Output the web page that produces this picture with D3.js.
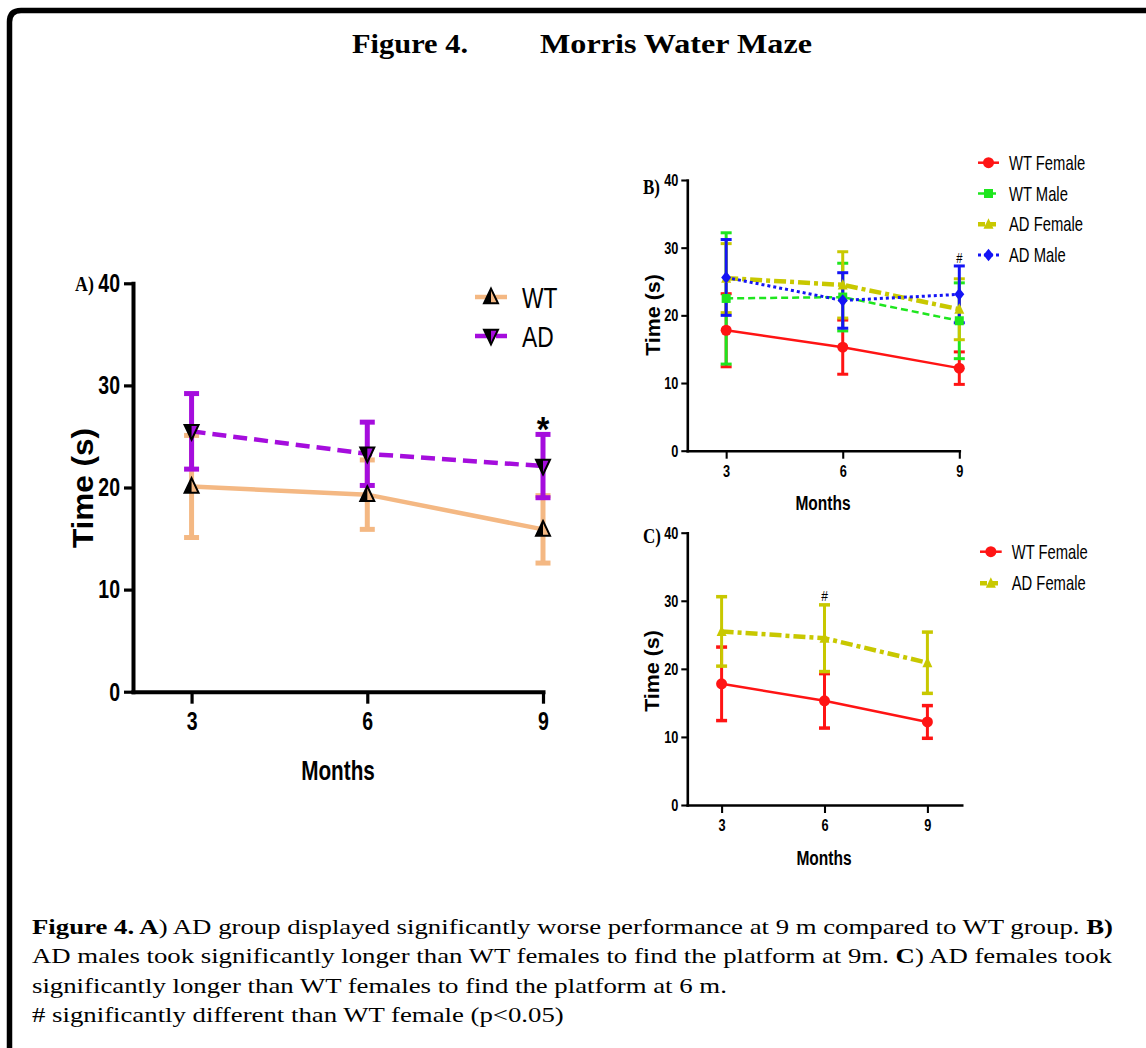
<!DOCTYPE html>
<html>
<head>
<meta charset="utf-8">
<script src="https://cdn.jsdelivr.net/npm/d3@7"></script>
<style>
  body { margin: 0; background: #fff; }
  svg { display: block; }
</style>
</head>
<body>
<svg id="fig" width="1146" height="1048"></svg>
<script>
// ---- data (mean time in s, error = half bar length) ----
const months = [3, 6, 9];
const xTicks = [3, 6, 9];
const yTicks = [0, 10, 20, 30, 40];

// panel A: genotype
const wtMean = [20.1, 19.3, 15.9];
const wtErr = [5.0, 3.4, 3.3];
const adMean = [25.5, 23.3, 22.1];
const adErr = [3.7, 3.1, 3.1];

// panels B / C: genotype x sex
const wtFemaleMean = [17.8, 15.3, 12.2];
const wtFemaleErr = [5.4, 4.0, 2.4];
const wtMaleMean = [22.5, 22.7, 19.2];
const wtMaleErr = [9.7, 5.0, 5.6];
const adFemaleMean = [25.5, 24.5, 20.9];
const adFemaleErr = [5.1, 4.9, 4.5];
const adMaleMean = [25.6, 22.2, 23.1];
const adMaleErr = [5.6, 4.1, 4.2];

const captionLines = [
  [["Figure 4. A", true], [") AD group displayed significantly worse performance at 9 m compared to WT group. ", false], ["B)", true]],
  [["AD males took significantly longer than WT females to find the platform at 9m. ", false], ["C", true], [") AD females took", false]],
  [["significantly longer than WT females to find the platform at 6 m.", false]],
  [["# significantly different than WT female (p<0.05)", false]]
];

const svg = d3.select("#fig");
const SANS = "'Liberation Sans', Arial, sans-serif";
const SERIF = "'Liberation Serif', 'Times New Roman', Times, 'Nimbus Roman', 'DejaVu Serif Condensed', serif";

// text squeezed horizontally, like the condensed font in the original
function label(g, x, y, str, size, o = {}) {
  return g.append("text")
    .attr("transform", `translate(${x},${y}) rotate(${o.rot || 0}) scale(${o.sx || 0.75},1)`)
    .attr("text-anchor", o.anchor || "start")
    .attr("dy", o.dy == null ? "0.35em" : o.dy)
    .attr("font-family", o.family || SANS)
    .attr("font-weight", o.weight || "normal")
    .attr("font-size", size)
    .attr("fill", "#000")
    .text(str);
}

function markerPath(type, s) {
  if (type == "up") return `M0,${-s * 1.2}L${s},${s * 0.9}L${-s},${s * 0.9}Z`;
  if (type == "down") return `M0,${s * 1.2}L${s},${-s * 0.9}L${-s},${-s * 0.9}Z`;
  if (type == "square") return `M${-s},${-s}h${2 * s}v${2 * s}h${-2 * s}Z`;
  if (type == "diamond") return `M0,${-s * 1.25}L${s},0L0,${s * 1.25}L${-s},0Z`;
  return d3.symbol(d3.symbolCircle, Math.PI * s * s)();
}
// left half of the triangle, painted black (panel A markers)
function halfPath(type, s) {
  if (type == "up") return `M0,${-s * 1.2}L0,${s * 0.9}L${-s},${s * 0.9}Z`;
  return `M0,${s * 1.2}L0,${-s * 0.9}L${-s},${-s * 0.9}Z`;
}

function drawMarker(g, type, s, color, outlined) {
  g.append("path").attr("d", markerPath(type, s))
    .attr("fill", color)
    .attr("stroke", outlined ? "#000" : "none")
    .attr("stroke-width", 2)
    .attr("stroke-linejoin", "miter");
  if (outlined)
    g.append("path").attr("d", halfPath(type, s)).attr("fill", "#000");
}

function panel(cfg) {
  const g = svg.append("g");
  const x = d3.scaleLinear().domain(cfg.xDomain).range([cfg.left, cfg.right]);
  const y = d3.scaleLinear().domain([0, 40]).range([cfg.bottom, cfg.top]);

  // error bars
  cfg.series.forEach(s => {
    const eg = g.append("g").attr("stroke", s.color).attr("stroke-width", cfg.barW);
    months.forEach((m, i) => {
      const lo = y(s.mean[i] - s.err[i]), hi = y(s.mean[i] + s.err[i]);
      eg.append("line").attr("x1", x(m)).attr("x2", x(m)).attr("y1", lo).attr("y2", hi);
      [lo, hi].forEach(v => eg.append("line")
        .attr("x1", x(m) - cfg.capW / 2).attr("x2", x(m) + cfg.capW / 2)
        .attr("y1", v).attr("y2", v).attr("stroke-width", cfg.capT));
    });
  });

  // lines
  const line = d3.line().x((d, i) => x(months[i])).y(d => y(d));
  cfg.series.forEach(s => {
    g.append("path").datum(s.mean)
      .attr("d", line)
      .attr("fill", "none")
      .attr("stroke", s.color)
      .attr("stroke-width", s.lw)
      .attr("stroke-dasharray", s.dash);
  });

  // markers
  cfg.series.forEach(s => {
    months.forEach((m, i) => {
      const mg = g.append("g").attr("transform", `translate(${x(m)},${y(s.mean[i])})`);
      drawMarker(mg, s.marker, s.ms, s.color, cfg.outlined);
    });
  });

  // axes
  const ya = g.append("g").attr("transform", `translate(${cfg.left},0)`)
    .call(d3.axisLeft(y).tickValues(yTicks).tickFormat(d3.format("d"))
      .tickSize(cfg.tick).tickSizeOuter(0).tickPadding(cfg.pad));
  const xa = g.append("g").attr("transform", `translate(0,${cfg.bottom})`)
    .call(d3.axisBottom(x).tickValues(xTicks).tickFormat(d3.format("d"))
      .tickSize(cfg.tickX).tickSizeOuter(0).tickPadding(cfg.padX));
  [ya, xa].forEach(a => {
    a.select(".domain").attr("stroke", "#000").attr("stroke-width", cfg.axisW).attr("stroke-linecap", "square");
    a.selectAll(".tick line").attr("stroke", "#000").attr("stroke-width", cfg.axisW * 0.8);
    a.selectAll("text")
      .attr("font-family", SANS).attr("font-weight", "bold")
      .attr("font-size", cfg.tickFont).attr("fill", "#000");
  });
  ya.selectAll("text")
    .attr("x", -(cfg.tick + cfg.pad) / 0.75)
    .attr("transform", "scale(0.75,1)");
  xa.selectAll("text").attr("transform", "scale(0.75,1)");

  // axis titles
  label(g, cfg.yTitle[0], cfg.yTitle[1], "Time (s)", cfg.yTitleFont,
    { rot: -90, sx: cfg.yTitleSx, anchor: "middle", weight: "bold" });
  label(g, cfg.xTitle[0], cfg.xTitle[1], "Months", cfg.xTitleFont,
    { sx: 0.74, anchor: "middle", weight: "bold" });
  label(g, cfg.tag[0], cfg.tag[1], cfg.tagText, cfg.tagFont,
    { sx: 0.85, family: SERIF, weight: "bold" });

  // legend
  cfg.series.forEach((s, i) => {
    const ly = cfg.legend.y + i * cfg.legend.step;
    g.append("line")
      .attr("x1", cfg.legend.x0).attr("x2", cfg.legend.x1)
      .attr("y1", ly).attr("y2", ly)
      .attr("stroke", s.color).attr("stroke-width", s.lw)
      .attr("stroke-dasharray", s.legendDash || s.dash);
    const mg = g.append("g").attr("transform", `translate(${(cfg.legend.x0 + cfg.legend.x1) / 2},${ly})`);
    drawMarker(mg, s.marker, s.ms, s.color, cfg.outlined);
    label(g, cfg.legend.tx, ly, s.name, cfg.legend.font, { sx: cfg.legend.sx });
  });

  return { g, x, y };
}

// ---- frame and title ----
svg.append("path")
  .attr("d", "M9.5,1048V22Q9.5,10.5,21,10.5H1146")
  .attr("fill", "none").attr("stroke", "#000").attr("stroke-width", 5.5);

svg.append("text").attr("x", 352).attr("y", 53)
  .attr("font-family", SERIF).attr("font-weight", "bold").attr("font-size", 28)
  .attr("textLength", 116).attr("lengthAdjust", "spacingAndGlyphs")
  .text("Figure 4.");
svg.append("text").attr("x", 540).attr("y", 53)
  .attr("font-family", SERIF).attr("font-weight", "bold").attr("font-size", 28)
  .attr("textLength", 272).attr("lengthAdjust", "spacingAndGlyphs")
  .text("Morris Water Maze");

// ---- panel A ----
const A = panel({
  xDomain: [2, 9], left: 133, right: 543, top: 283.3, bottom: 691.7,
  barW: 5, capW: 15, capT: 5, outlined: true,
  axisW: 4, tick: 9, pad: 4, tickX: 12, padX: 8, tickFont: 26,
  yTitle: [82, 488], yTitleFont: 30, yTitleSx: 1.05,
  xTitle: [338, 770], xTitleFont: 28,
  tag: [75, 284], tagText: "A)", tagFont: 21,
  legend: { x0: 475, x1: 507, tx: 522, y: 297, step: 39, font: 30, sx: 0.76 },
  series: [
    { name: "WT", mean: wtMean, err: wtErr, color: "#F4B883", lw: 4.5, dash: null, marker: "up", ms: 7 },
    { name: "AD", mean: adMean, err: adErr, color: "#A50DDD", lw: 4.5, dash: "14,7", marker: "down", ms: 7 }
  ]
});
label(A.g, A.x(9), 441, "*", 36, { anchor: "middle", dy: 0, weight: "bold", sx: 0.9 });

// ---- panel B ----
const B = panel({
  xDomain: [2, 9], left: 687.3, right: 959.3, top: 180, bottom: 450.7,
  barW: 3, capW: 11, capT: 3, outlined: false,
  axisW: 2.6, tick: 6, pad: 3, tickX: 8, padX: 6, tickFont: 17,
  yTitle: [653, 315], yTitleFont: 20, yTitleSx: 1.07,
  xTitle: [823, 503], xTitleFont: 21,
  tag: [643, 187], tagText: "B)", tagFont: 20,
  legend: { x0: 978, x1: 999, tx: 1009, y: 162.7, step: 30.8, font: 20, sx: 0.74 },
  series: [
    { name: "WT Female", mean: wtFemaleMean, err: wtFemaleErr, color: "#FF1414", lw: 2.5, dash: null, marker: "circle", ms: 5.5 },
    { name: "WT Male", mean: wtMaleMean, err: wtMaleErr, color: "#1EE61E", lw: 2.5, dash: "7,4", marker: "square", ms: 4.5 },
    { name: "AD Female", mean: adFemaleMean, err: adFemaleErr, color: "#C8C800", lw: 4.5, dash: "12,4,4,4", legendDash: "7,4", marker: "up", ms: 5 },
    { name: "AD Male", mean: adMaleMean, err: adMaleErr, color: "#1414F5", lw: 3, dash: "3,3", marker: "diamond", ms: 5 }
  ]
});
label(B.g, B.x(9), 263, "#", 14, { anchor: "middle", dy: 0, sx: 0.8 });

// ---- panel C ----
const C = panel({
  xDomain: [2, 10], left: 687.3, right: 961.7, top: 532.7, bottom: 805,
  barW: 3, capW: 11, capT: 3.5, outlined: false,
  axisW: 2.6, tick: 6, pad: 3, tickX: 8, padX: 6, tickFont: 17,
  yTitle: [652, 671], yTitleFont: 20, yTitleSx: 1.07,
  xTitle: [824, 858], xTitleFont: 21,
  tag: [643, 536], tagText: "C)", tagFont: 20,
  legend: { x0: 980, x1: 1001.7, tx: 1011.7, y: 551.7, step: 31.6, font: 20, sx: 0.74 },
  series: [
    { name: "WT Female", mean: wtFemaleMean, err: wtFemaleErr, color: "#FF1414", lw: 2.5, dash: null, marker: "circle", ms: 5.5 },
    { name: "AD Female", mean: adFemaleMean, err: adFemaleErr, color: "#C8C800", lw: 4.5, dash: "12,4,4,4", legendDash: "7,4", marker: "up", ms: 5 }
  ]
});
label(C.g, C.x(6), 601, "#", 15, { anchor: "middle", dy: 0, sx: 0.8 });

// ---- caption ----
const cap = svg.append("g").attr("font-family", SERIF).attr("font-size", 22).attr("fill", "#000");
captionLines.forEach((parts, i) => {
  const t = cap.append("text").attr("x", 0).attr("y", i * 29.5);
  parts.forEach(([s, b]) => t.append("tspan").attr("font-weight", b ? "bold" : null).text(s));
});
const w0 = cap.select("text").node().getComputedTextLength();
cap.attr("transform", `translate(32,934) scale(${1081 / w0},1)`);
</script>
</body>
</html>
